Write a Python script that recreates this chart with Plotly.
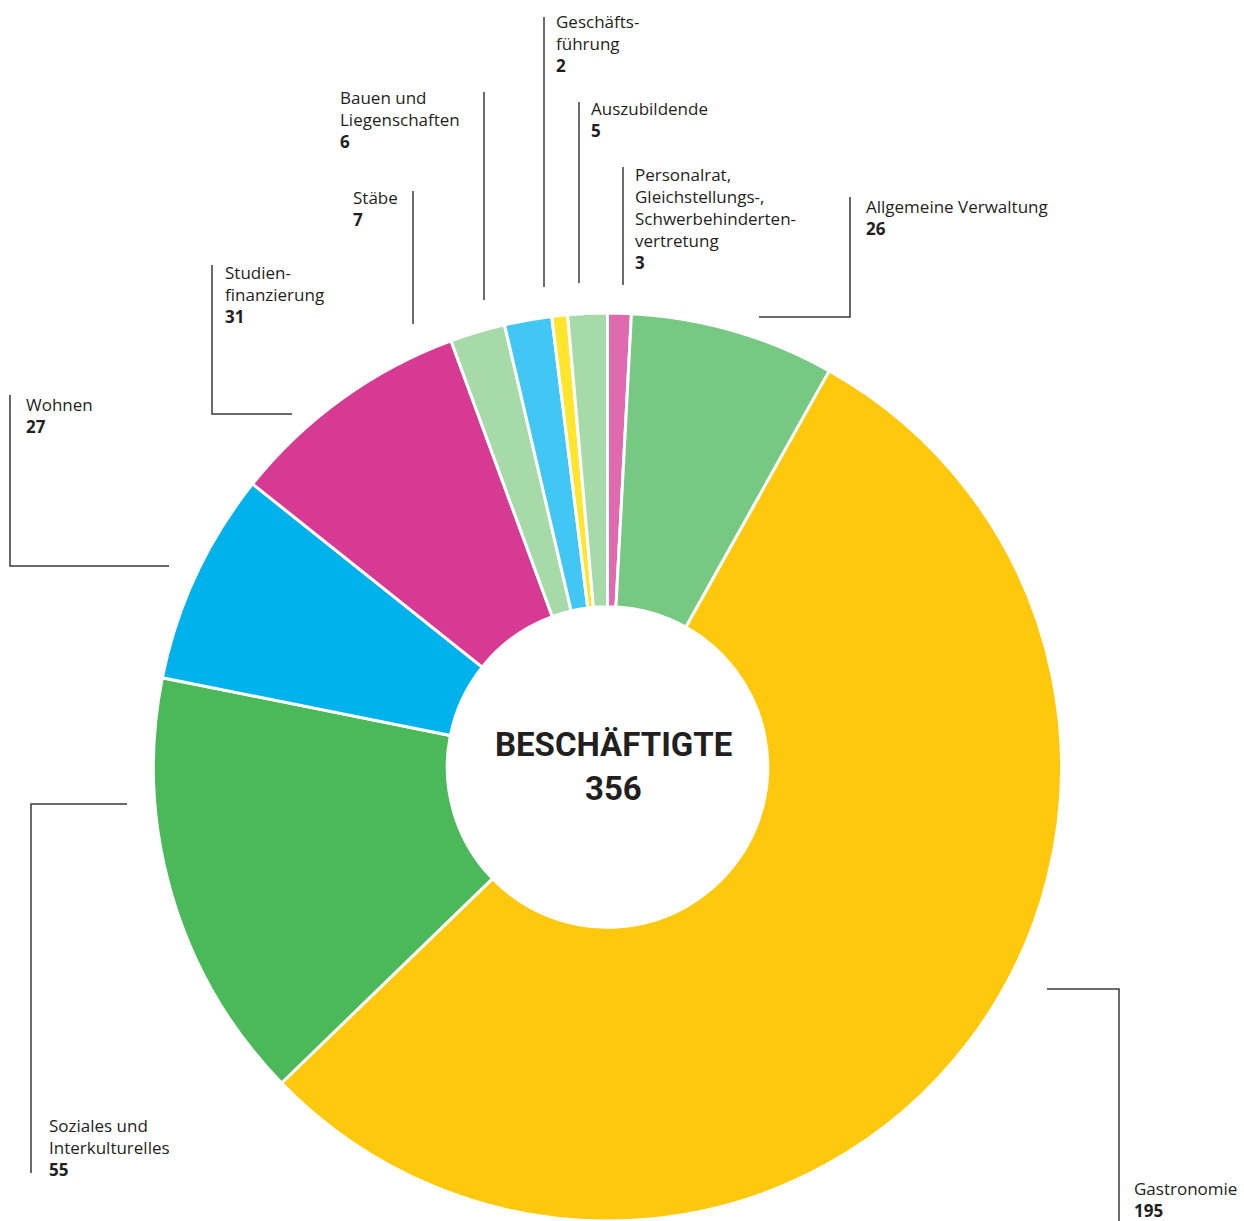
import plotly.graph_objects as go

W, H = 1244, 1221

# ---- data (clockwise from 12 o'clock) ----
categories = [
    "Personalrat,<br>Gleichstellungs-,<br>Schwerbehinderten-<br>vertretung",
    "Allgemeine Verwaltung",
    "Gastronomie",
    "Soziales und<br>Interkulturelles",
    "Wohnen",
    "Studien-<br>finanzierung",
    "Stäbe",
    "Bauen und<br>Liegenschaften",
    "Geschäfts-<br>führung",
    "Auszubildende",
]
values = [3, 26, 195, 55, 27, 31, 7, 6, 2, 5]
colors = ["#E06AAE", "#77C883", "#FEC90D", "#4BB85A", "#00B2EC",
          "#D63A93", "#A6DBA9", "#42C6F3", "#FFE52B", "#A6DBA9"]
center_title = "BESCHÄFTIGTE"
center_total = 356


def px(x):
    return x / W


def py(y):
    return 1 - y / H


fig = go.Figure()
fig.add_trace(go.Pie(
    labels=[c.replace("<br>", " ") for c in categories],
    values=values,
    marker=dict(colors=colors, line=dict(color="white", width=3)),
    hole=0.353,
    sort=False,
    direction="clockwise",
    rotation=0,
    textinfo="none",
    hoverinfo="label+value",
    showlegend=False,
    domain=dict(x=[px(153.5), px(1061.5)], y=[0, py(313)]),
))

# label layout: (text-left x, first baseline y) and leader-line polylines
label_pos = [
    (634, 179),   # Personalrat
    (865, 211),   # Allgemeine Verwaltung
    (1133, 1193), # Gastronomie
    (48, 1130),   # Soziales
    (25, 409),    # Wohnen
    (224, 277),   # Studienfinanzierung
    (352, 202),   # Stäbe
    (339, 102),   # Bauen
    (555, 26),    # Geschäftsführung
    (590, 114),   # Auszubildende
]
leaders = [
    [(623, 167), (623, 285)],
    [(850, 197), (850, 317), (759, 317)],
    [(1047, 989), (1119, 989), (1119, 1221)],
    [(127, 804), (31, 804), (31, 1173)],
    [(10, 395), (10, 566), (169, 566)],
    [(212, 265), (212, 414), (292, 414)],
    [(413, 191), (413, 324)],
    [(484, 92), (484, 300)],
    [(544, 17), (544, 287)],
    [(579, 102), (579, 283)],
]

FS = 17
TXT = "#231F20"
for cat, val, (lx, by), pts in zip(categories, values, label_pos, leaders):
    fig.add_annotation(
        x=px(lx), y=py(by - 17.5), xref="paper", yref="paper",
        xanchor="left", yanchor="top", align="left", showarrow=False,
        borderpad=0,
        text=f"{cat}<br><b>{val}</b>",
        font=dict(family="Open Sans", size=FS, color=TXT),
    )
    path = "M " + " L ".join(f"{px(x)},{py(y)}" for x, y in pts)
    fig.add_shape(type="path", path=path, xref="paper", yref="paper",
                  line=dict(color="#3A3A3A", width=1.5))

fig.add_annotation(
    x=px(613), y=py(744.5), xref="paper", yref="paper",
    xanchor="center", yanchor="middle", showarrow=False,
    text=f"<b>{center_title}</b>",
    font=dict(family="Roboto", size=33, color=TXT),
)
fig.add_annotation(
    x=px(613), y=py(788.5), xref="paper", yref="paper",
    xanchor="center", yanchor="middle", showarrow=False,
    text=f"<b>{center_total}</b>",
    font=dict(family="Roboto", size=33, color=TXT),
)

fig.update_layout(
    width=W, height=H,
    margin=dict(l=0, r=0, t=0, b=0),
    paper_bgcolor="white", plot_bgcolor="white",
)

fig.write_html("out.html", config={"displayModeBar": False},
               post_script="document.body.style.margin='0';")
